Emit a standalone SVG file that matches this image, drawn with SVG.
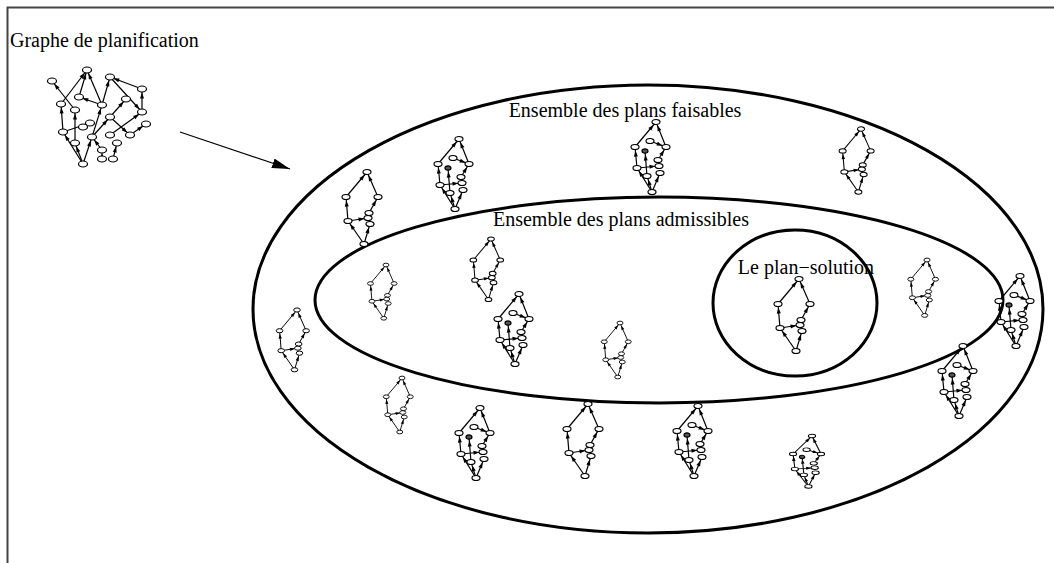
<svg xmlns="http://www.w3.org/2000/svg" xmlns:xlink="http://www.w3.org/1999/xlink" width="1054" height="563" viewBox="0 0 1054 563">
<style>
.lbl{font-family:"Liberation Serif","Times New Roman",serif;font-size:20px;fill:#000}
.big{fill:none;stroke:#000;stroke-width:3}
.e{fill:none;stroke:#000;stroke-width:1.2;marker-end:url(#ah)}
.n{fill:#fff;stroke:#000;stroke-width:1.2}
.nf{fill:#555;stroke:#000;stroke-width:1.2}
</style>
<defs>
<marker id="ah" markerUnits="userSpaceOnUse" markerWidth="6" markerHeight="4" refX="9.5" refY="2" orient="auto" overflow="visible"><path d="M0,0 L6,2 L0,4 z" fill="#000"/></marker>
<marker id="bigah" markerUnits="userSpaceOnUse" markerWidth="18" markerHeight="10" refX="18" refY="5" orient="auto"><path d="M0,0 L18,5 L0,10 z" fill="#000"/></marker>
<g id="simple">
<path class="e" d="M-3,72 L-19,49"/>
<path class="e" d="M-3,72 L3,52"/>
<path class="e" d="M-19,49 L-21,25"/>
<path class="e" d="M-21,25 L0,0"/>
<path class="e" d="M11,25 L0,0"/>
<path class="e" d="M-19,49 L1,46"/>
<path class="e" d="M2,41 L11,25"/>
<ellipse class="n" cx="0" cy="0" rx="4" ry="2.5"/>
<ellipse class="n" cx="-21" cy="25" rx="4" ry="2.5"/>
<ellipse class="n" cx="11" cy="25" rx="4" ry="2.5"/>
<ellipse class="n" cx="-19" cy="49" rx="4" ry="2.5"/>
<ellipse class="n" cx="2" cy="41" rx="4" ry="2.5"/>
<ellipse class="n" cx="1" cy="46" rx="4" ry="2.5"/>
<ellipse class="n" cx="3" cy="52" rx="4" ry="2.5"/>
<ellipse class="n" cx="-3" cy="72" rx="4" ry="2.5"/>
</g>
<g id="complex">
<path class="e" d="M-21,25 L0,0"/>
<path class="e" d="M10,25 L0,0"/>
<path class="e" d="M-6,19 L10,25"/>
<path class="e" d="M-19,46 L-21,25"/>
<path class="e" d="M-9,54 L-11,29"/>
<path class="e" d="M-19,46 L3,44"/>
<path class="e" d="M-4,70 L-19,46"/>
<path class="e" d="M-4,70 L-9,54"/>
<path class="e" d="M-4,70 L4,51"/>
<path class="e" d="M2,38 L10,25"/>
<ellipse class="n" cx="0" cy="0" rx="4" ry="2.5"/>
<ellipse class="n" cx="-21" cy="25" rx="4" ry="2.5"/>
<ellipse class="n" cx="10" cy="25" rx="4" ry="2.5"/>
<ellipse class="n" cx="-6" cy="19" rx="4" ry="2.5"/>
<ellipse class="nf" cx="-11" cy="29" rx="3" ry="2.2"/>
<ellipse class="n" cx="2" cy="38" rx="4" ry="2.5"/>
<ellipse class="n" cx="3" cy="44" rx="4" ry="2.5"/>
<ellipse class="n" cx="-19" cy="46" rx="4" ry="2.5"/>
<ellipse class="n" cx="-9" cy="54" rx="4" ry="2.5"/>
<ellipse class="n" cx="4" cy="51" rx="4" ry="2.5"/>
<ellipse class="n" cx="-4" cy="70" rx="4" ry="2.5"/>
</g>
</defs>
<rect width="1054" height="563" fill="#fff"/>
<path id="frame" d="M7.5,563 V7.5 H1054" fill="none" stroke="#444" stroke-width="2"/>

<g id="planning-graph">
<text class="lbl" x="10" y="47">Graphe de planification</text>
<g id="pg-edges">
<path class="e" d="M75,110 L52,81"/>
<path class="e" d="M79,97 L87,70"/>
<path class="e" d="M61,104 L87,70"/>
<path class="e" d="M102,105 L87,70"/>
<path class="e" d="M102,105 L110,77"/>
<path class="e" d="M142,89 L110,77"/>
<path class="e" d="M110,77 L142,112"/>
<path class="e" d="M142,112 L142,89"/>
<path class="e" d="M110,117 L126,99"/>
<path class="e" d="M102,105 L79,97"/>
<path class="e" d="M63,132 L61,104"/>
<path class="e" d="M75,143 L75,110"/>
<path class="e" d="M63,132 L90,123"/>
<path class="e" d="M92,137 L102,105"/>
<path class="e" d="M92,137 L110,117"/>
<path class="e" d="M110,117 L130,135"/>
<path class="e" d="M130,135 L146,124"/>
<path class="e" d="M110,135 L142,112"/>
<path class="e" d="M83,164 L63,132"/>
<path class="e" d="M83,164 L75,143"/>
<path class="e" d="M83,164 L92,137"/>
<path class="e" d="M102,150 L92,137"/>
<path class="e" d="M113,159 L117,143"/>
<path class="e" d="M102,159 L102,150"/>
</g>
<g id="pg-nodes">
<ellipse class="n" cx="87" cy="70" rx="4.5" ry="3"/>
<ellipse class="n" cx="52" cy="81" rx="4.5" ry="3"/>
<ellipse class="n" cx="110" cy="77" rx="4.5" ry="3"/>
<ellipse class="n" cx="142" cy="89" rx="4.5" ry="3"/>
<ellipse class="n" cx="79" cy="97" rx="4.5" ry="3"/>
<ellipse class="n" cx="61" cy="104" rx="4.5" ry="3"/>
<ellipse class="n" cx="75" cy="110" rx="4.5" ry="3"/>
<ellipse class="n" cx="102" cy="105" rx="4.5" ry="3"/>
<ellipse class="n" cx="126" cy="99" rx="4.5" ry="3"/>
<ellipse class="n" cx="142" cy="112" rx="4.5" ry="3"/>
<ellipse class="n" cx="110" cy="117" rx="4.5" ry="3"/>
<ellipse class="n" cx="90" cy="123" rx="4.5" ry="3"/>
<ellipse class="n" cx="83" cy="127" rx="4.5" ry="3"/>
<ellipse class="n" cx="63" cy="132" rx="4.5" ry="3"/>
<ellipse class="n" cx="146" cy="124" rx="4.5" ry="3"/>
<ellipse class="n" cx="110" cy="135" rx="4.5" ry="3"/>
<ellipse class="n" cx="130" cy="135" rx="4.5" ry="3"/>
<ellipse class="n" cx="92" cy="137" rx="4.5" ry="3"/>
<ellipse class="n" cx="75" cy="143" rx="4.5" ry="3"/>
<ellipse class="n" cx="117" cy="143" rx="4.5" ry="3"/>
<ellipse class="n" cx="102" cy="150" rx="4.5" ry="3"/>
<ellipse class="n" cx="102" cy="159" rx="4.5" ry="3"/>
<ellipse class="n" cx="113" cy="159" rx="4.5" ry="3"/>
<ellipse class="n" cx="83" cy="164" rx="4.5" ry="3"/>
</g>
</g>

<g id="connectors">
<path d="M180,132 L290,169" fill="none" stroke="#000" stroke-width="1.3" marker-end="url(#bigah)"/>
</g>

<g id="feasible-set">
<ellipse class="big" cx="648" cy="309" rx="395" ry="224"/>
<text class="lbl" x="625" y="117" text-anchor="middle">Ensemble des plans faisables</text>
</g>
<g id="admissible-set">
<ellipse class="big" cx="659" cy="300" rx="344" ry="103"/>
<text class="lbl" x="621" y="226" text-anchor="middle">Ensemble des plans admissibles</text>
</g>
<g id="solution">
<ellipse class="big" cx="795" cy="303" rx="82" ry="73"/>
<text class="lbl" x="806" y="274" text-anchor="middle">Le plan−solution</text>
</g>

<g id="plans">
<use id="p1" xlink:href="#simple" transform="translate(367,172)"/>
<use id="p2" xlink:href="#complex" transform="translate(459,139)"/>
<use id="p3" xlink:href="#complex" transform="translate(656,122)"/>
<use id="p4" xlink:href="#simple" transform="translate(861,129) scale(0.875)"/>
<use id="p5" xlink:href="#simple" transform="translate(386,265) scale(0.74)"/>
<use id="p6" xlink:href="#simple" transform="translate(491,239) scale(0.84)"/>
<use id="p7" xlink:href="#complex" transform="translate(519,294)"/>
<use id="p8" xlink:href="#simple" transform="translate(620,323) scale(0.75)"/>
<use id="p9" xlink:href="#simple" transform="translate(799,279)"/>
<use id="p10" xlink:href="#simple" transform="translate(927,260) scale(0.77)"/>
<use id="p11" xlink:href="#complex" transform="translate(1020,276)"/>
<use id="p12" xlink:href="#complex" transform="translate(963,346)"/>
<use id="p13" xlink:href="#simple" transform="translate(297,310) scale(0.83)"/>
<use id="p14" xlink:href="#simple" transform="translate(402,378) scale(0.75)"/>
<use id="p15" xlink:href="#complex" transform="translate(480,408)"/>
<use id="p16" xlink:href="#simple" transform="translate(588,404)"/>
<use id="p17" xlink:href="#complex" transform="translate(698,406)"/>
<use id="p18" xlink:href="#complex" transform="translate(812,436) scale(0.9,0.72)"/>
</g>
</svg>
